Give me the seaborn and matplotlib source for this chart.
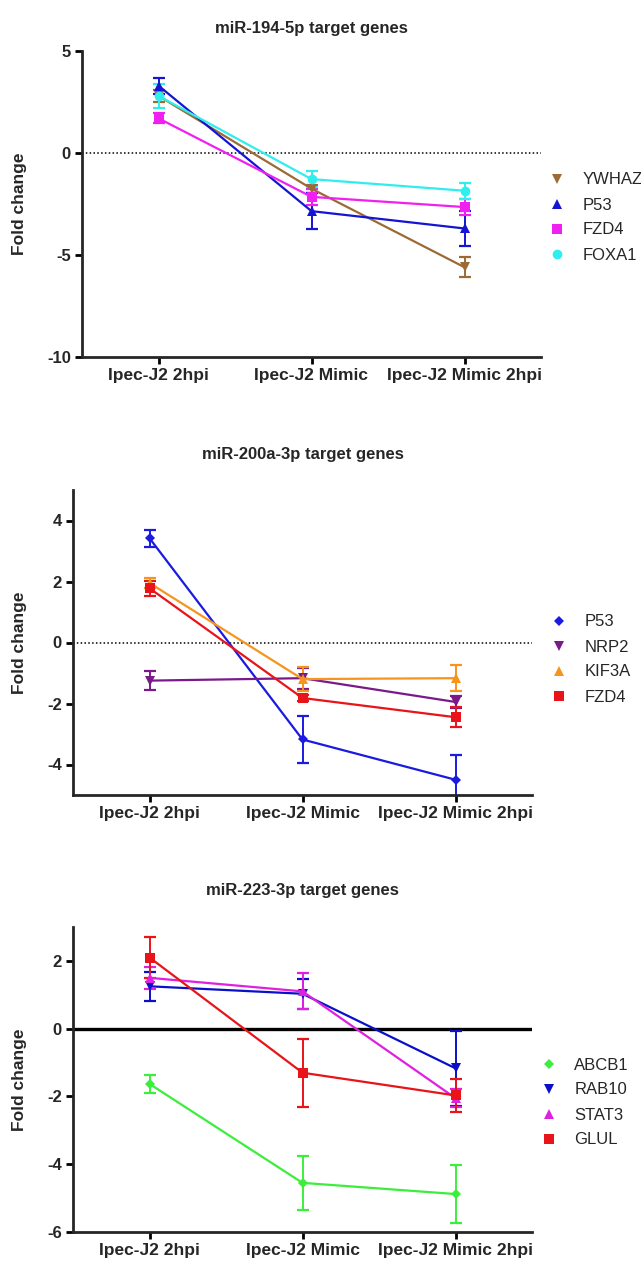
import numpy as np
import pandas as pd
import matplotlib
matplotlib.use("Agg")
import matplotlib.pyplot as plt
from matplotlib.lines import Line2D
import seaborn as sns

# ---------------- data ----------------
conditions = ["Ipec-J2 2hpi", "Ipec-J2 Mimic", "Ipec-J2 Mimic 2hpi"]

# miR-194-5p panel
genes_194 = ["YWHAZ", "P53", "FZD4", "FOXA1"]
ywhaz = [2.8, -1.75, -5.6]
ywhaz_err = [0.3, 0.2, 0.5]
p53_194 = [3.3, -2.85, -3.7]
p53_194_err = [0.4, 0.9, 0.87]
fzd4_194 = [1.7, -2.15, -2.65]
fzd4_194_err = [0.25, 0.4, 0.4]
foxa1 = [2.8, -1.28, -1.85]
foxa1_err = [0.6, 0.4, 0.4]

# miR-200a-3p panel
genes_200 = ["P53", "NRP2", "KIF3A", "FZD4"]
p53_200 = [3.42, -3.18, -4.5]
p53_200_err = [0.28, 0.78, 0.82]
nrp2 = [-1.25, -1.17, -1.95]
nrp2_err = [0.3, 0.35, 0.2]
kif3a = [1.95, -1.2, -1.17]
kif3a_err = [0.15, 0.4, 0.43]
fzd4_200 = [1.78, -1.82, -2.45]
fzd4_200_err = [0.25, 0.1, 0.33]

# miR-223-3p panel
genes_223 = ["ABCB1", "RAB10", "STAT3", "GLUL"]
abcb1 = [-1.63, -4.55, -4.88]
abcb1_err = [0.27, 0.8, 0.86]
rab10 = [1.25, 1.03, -1.17]
rab10_err = [0.43, 0.45, 1.1]
stat3 = [1.5, 1.1, -2.05]
stat3_err = [0.33, 0.53, 0.27]
glul = [2.1, -1.3, -1.97]
glul_err = [0.6, 1.0, 0.48]

titles = ["miR-194-5p target genes", "miR-200a-3p target genes", "miR-223-3p target genes"]

# ---------------- style ----------------
sns.set_style("ticks")
plt.rcParams["font.family"] = ["Liberation Sans", "DejaVu Sans"]

fig = plt.figure(figsize=(6.41, 12.62), dpi=100)
W, H = 641.0, 1262.0


def px_axes(left, top, right, bottom):
    return fig.add_axes([left / W, 1 - bottom / H, (right - left) / W, (bottom - top) / H])


panels = [
    dict(
        genes=genes_194,
        vals=[ywhaz, p53_194, fzd4_194, foxa1],
        errs=[ywhaz_err, p53_194_err, fzd4_194_err, foxa1_err],
        colors=["#9C6B35", "#1414D2", "#F020F0", "#30EEEE"],
        markers=["v", "^", "s", "o"],
        ylim=(-10, 5), yticks=[-10, -5, 0, 5],
        box=(82, 51, 541, 357), zero="dotted",
        title_y=28, leg=(549, 217.5),
    ),
    dict(
        genes=genes_200,
        vals=[p53_200, nrp2, kif3a, fzd4_200],
        errs=[p53_200_err, nrp2_err, kif3a_err, fzd4_200_err],
        colors=["#1A1AE0", "#7A1A8A", "#F7941D", "#E8141A"],
        markers=["D", "v", "^", "s"],
        ylim=(-5, 5), yticks=[-4, -2, 0, 2, 4],
        box=(73, 490, 532, 795), zero="dotted",
        title_y=455, leg=(551, 659.5),
    ),
    dict(
        genes=genes_223,
        vals=[abcb1, rab10, stat3, glul],
        errs=[abcb1_err, rab10_err, stat3_err, glul_err],
        colors=["#3CEE3C", "#0A10C8", "#E020E0", "#E8141A"],
        markers=["D", "v", "^", "s"],
        ylim=(-6, 3), yticks=[-6, -4, -2, 0, 2],
        box=(73, 927, 532, 1232), zero="solid",
        title_y=891, leg=(541, 1102.5),
    ),
]

x_pos = np.arange(len(conditions))


def msize(m):
    return 5.0 if m == "D" else 7.0


for p, title in zip(panels, titles):
    ax = px_axes(*p["box"])
    rows = []
    for g, v in zip(p["genes"], p["vals"]):
        for xi, yi in zip(x_pos, v):
            rows.append({"gene": g, "x": xi, "value": yi})
    df = pd.DataFrame(rows)
    pal = dict(zip(p["genes"], p["colors"]))

    # zero line
    if p["zero"] == "dotted":
        ax.axhline(0, color="black", lw=1.1, ls=(0, (1, 1.5)), zorder=1)
    else:
        ax.axhline(0, color="black", lw=2.4, zorder=1)

    for g, m in zip(p["genes"], p["markers"]):
        sub = df[df["gene"] == g]
        sns.lineplot(data=sub, x="x", y="value", color=pal[g], marker=m,
                     ax=ax, legend=False, lw=1.6, markersize=msize(m),
                     markeredgewidth=0, zorder=3)
    for g, v, e, c in zip(p["genes"], p["vals"], p["errs"], p["colors"]):
        ax.errorbar(x_pos, v, yerr=e, fmt="none", ecolor=c, elinewidth=1.4,
                    capsize=4, capthick=1.6, zorder=2)

    ax.set_xlim(-0.5, 2.5)
    ax.set_ylim(*p["ylim"])
    ax.set_yticks(p["yticks"])
    ax.set_yticklabels([str(t) for t in p["yticks"]], fontweight="bold", fontsize=12)
    ax.set_xticks(x_pos)
    ax.set_xticklabels(conditions, fontweight="bold", fontsize=12.5)
    ax.set_xlabel("")
    ax.set_ylabel("Fold change", fontweight="bold", fontsize=12.5)
    left = p["box"][0]
    ax.yaxis.set_label_coords((27 - left) / (p["box"][2] - left), 0.5)
    sns.despine(ax=ax)
    for s in ["left", "bottom"]:
        ax.spines[s].set_linewidth(2.0)
    ax.tick_params(axis="both", width=2.0, length=5, direction="out", pad=3, color="black")

    cx = (p["box"][0] + p["box"][2]) / 2 / W
    fig.text(cx, 1 - p["title_y"] / H, title, ha="center", va="center",
             fontweight="bold", fontsize=12)

    handles = [Line2D([0], [0], marker=m, color=c, ls="none", markersize=msize(m),
                      markeredgewidth=0) for m, c in zip(p["markers"], p["colors"])]
    lx, ly = p["leg"]
    fig.legend(handles, p["genes"], loc="center left",
               bbox_to_anchor=(lx / W, 1 - ly / H), frameon=False,
               fontsize=12, handlelength=1.0, handletextpad=1.0,
               labelspacing=0.6, borderpad=0, borderaxespad=0)

fig.savefig("out.png", dpi=100)
